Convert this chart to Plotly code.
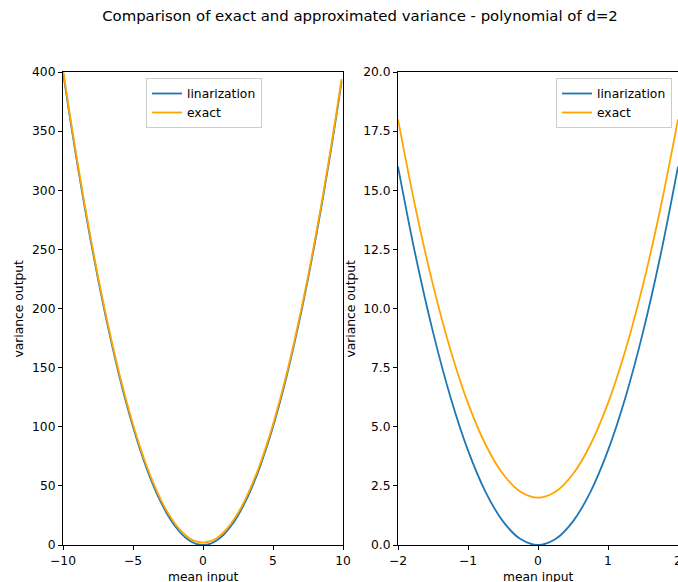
import plotly.graph_objects as go
from plotly.subplots import make_subplots

# Wide range of mean input values
x_wide = [-10, -9.5, -9, -8.5, -8, -7.5, -7, -6.5, -6, -5.5, -5, -4.5, -4, -3.5, -3,
          -2.5, -2, -1.5, -1, -0.5, 0, 0.5, 1, 1.5, 2, 2.5, 3, 3.5, 4, 4.5, 5, 5.5,
          6, 6.5, 7, 7.5, 8, 8.5, 9, 9.5, 9.9]
lin_wide = [400, 361, 324, 289, 256, 225, 196, 169, 144, 121, 100, 81, 64, 49, 36,
            25, 16, 9, 4, 1, 0, 1, 4, 9, 16, 25, 36, 49, 64, 81, 100, 121,
            144, 169, 196, 225, 256, 289, 324, 361, 392]
exact_wide = [402, 363, 326, 291, 258, 227, 198, 171, 146, 123, 102, 83, 66, 51, 38,
              27, 18, 11, 6, 3, 2, 3, 6, 11, 18, 27, 38, 51, 66, 83, 102, 123,
              146, 171, 198, 227, 258, 291, 326, 363, 394]

# Narrow range of mean input values
x_narrow = [-2, -1.75, -1.5, -1.25, -1, -0.75, -0.5, -0.25, 0,
            0.25, 0.5, 0.75, 1, 1.25, 1.5, 1.75, 2]
lin_narrow = [16, 12.25, 9, 6.25, 4, 2.25, 1, 0.25, 0,
              0.25, 1, 2.25, 4, 6.25, 9, 12.25, 16]
exact_narrow = [18, 14.25, 11, 8.25, 6, 4.25, 3, 2.25, 2,
                2.25, 3, 4.25, 6, 8.25, 11, 14.25, 18]

left_xticks = [-10, -5, 0, 5, 10]
left_yticks = [0, 50, 100, 150, 200, 250, 300, 350, 400]
right_xticks = [-2, -1, 0, 1, 2]
right_yticks = [0, 2.5, 5, 7.5, 10, 12.5, 15, 17.5, 20]

BLUE = "#1f77b4"
ORANGE = "#ffa500"
FONT = "DejaVu Sans"
FS = 12.3
LW = 1.8


def fmt(v, digits=0):
    s = f"{abs(v):.{digits}f}"
    return ("\u2212" + s) if v < 0 else s


W, H = 720, 620
L, T = 63, 72
PW, PH = 615, 473

fig = make_subplots(rows=1, cols=2, horizontal_spacing=55 / PW)

fig.add_trace(go.Scatter(x=x_wide, y=lin_wide, name="linarization", mode="lines",
                         line=dict(color=BLUE, width=LW, shape="spline"),
                         legend="legend"), row=1, col=1)
fig.add_trace(go.Scatter(x=x_wide, y=exact_wide, name="exact", mode="lines",
                         line=dict(color=ORANGE, width=LW, shape="spline"),
                         legend="legend"), row=1, col=1)
fig.add_trace(go.Scatter(x=x_narrow, y=lin_narrow, name="linarization", mode="lines",
                         line=dict(color=BLUE, width=LW, shape="spline"),
                         legend="legend2"), row=1, col=2)
fig.add_trace(go.Scatter(x=x_narrow, y=exact_narrow, name="exact", mode="lines",
                         line=dict(color=ORANGE, width=LW, shape="spline"),
                         legend="legend2"), row=1, col=2)

axis_style = dict(showline=True, mirror=True, linecolor="black", linewidth=1,
                  ticks="outside", ticklen=4, tickcolor="black", tickwidth=1,
                  showgrid=False, zeroline=False,
                  tickfont=dict(family=FONT, size=FS, color="black"))

fig.update_xaxes(range=[-10, 10], tickvals=left_xticks,
                 ticktext=[fmt(v) for v in left_xticks], row=1, col=1, **axis_style)
fig.update_yaxes(range=[0, 400], tickvals=left_yticks,
                 ticktext=[fmt(v) for v in left_yticks], row=1, col=1, **axis_style)
fig.update_xaxes(range=[-2, 2], tickvals=right_xticks,
                 ticktext=[fmt(v) for v in right_xticks], row=1, col=2, **axis_style)
fig.update_yaxes(range=[0, 20], tickvals=right_yticks,
                 ticktext=[fmt(v, 1) for v in right_yticks], row=1, col=2, **axis_style)

fig.layout.xaxis.domain = [0, 280 / PW]
fig.layout.xaxis2.domain = [335 / PW, 1]

legend_style = dict(bgcolor="white", bordercolor="#cccccc", borderwidth=1,
                    font=dict(family=FONT, size=FS, color="black"),
                    yanchor="top", y=(545 - 78) / PH, tracegroupgap=0,
                    itemwidth=30)

title_font = dict(family=FONT, size=FS, color="black")
annotations = [
    dict(text="mean input", xref="paper", yref="paper", x=(203 - L) / PW,
         y=(545 - 577) / PH, showarrow=False, font=title_font,
         xanchor="center", yanchor="middle"),
    dict(text="mean input", xref="paper", yref="paper", x=(538 - L) / PW,
         y=(545 - 577) / PH, showarrow=False, font=title_font,
         xanchor="center", yanchor="middle"),
    dict(text="variance output", xref="paper", yref="paper", x=(18 - L) / PW,
         y=0.5, showarrow=False, font=title_font, textangle=-90,
         xanchor="center", yanchor="middle"),
    dict(text="variance output", xref="paper", yref="paper", x=(350 - L) / PW,
         y=0.5, showarrow=False, font=title_font, textangle=-90,
         xanchor="center", yanchor="middle"),
]

fig.update_layout(
    width=W, height=H,
    margin=dict(l=L, r=W - L - PW, t=T, b=H - T - PH),
    paper_bgcolor="white", plot_bgcolor="white",
    title=dict(text="Comparison of exact and approximated variance - polynomial of d=2",
               x=360 / W, xanchor="center", xref="container",
               y=1 - 16 / H, yanchor="middle",
               font=dict(family=FONT, size=14.9, color="black")),
    legend=dict(xanchor="left", x=(146 - L) / PW, **legend_style),
    legend2=dict(xanchor="right", x=(672 - L) / PW, **legend_style),
    annotations=annotations,
)

fig.write_html("out.html")
